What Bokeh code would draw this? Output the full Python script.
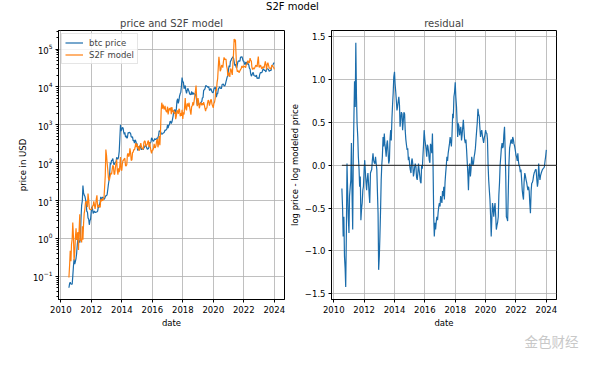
import numpy as np
import pandas as pd
from bokeh.plotting import figure
from bokeh.layouts import column, row
from bokeh.models import FixedTicker, Legend, LegendItem, Label, Range1d
from bokeh.embed import file_html
from bokeh.resources import INLINE

# ---------------- data (semi-monthly: 1st and 15th) ----------------
FIRST_DATE = "2010-07-15"
LAST_DATE = "2024-01-01"

btc_price = [
    # 2010 Jul15 .. Dec15
    0.05, 0.065, 0.07, 0.063, 0.062, 0.062, 0.1, 0.19, 0.28, 0.21, 0.24,
    # 2011
    0.3, 0.4, 0.7, 1.0, 0.9, 0.85, 0.78, 1.1, 3.5, 7.5, 10, 25,
    16, 14, 13, 11, 8.5, 5.2, 5.0, 3.5, 3.2, 2.3, 3.0, 3.2,
    # 2012
    5.3, 6.8, 5.9, 4.6, 4.9, 5.3, 4.9, 4.9, 5.0, 5.0, 5.3, 6.5,
    6.7, 7.6, 9.3, 12.5, 10.3, 11.8, 12.4, 11.8, 10.8, 11.2, 12.6, 13.5,
    # 2013
    13.5, 14.5, 20, 27, 34, 47, 100, 90, 116, 115, 129, 100,
    88, 97, 105, 100, 140, 127, 125, 140, 200, 420, 1000, 690,
    # 2014
    770, 850, 830, 650, 560, 630, 470, 520, 450, 450, 630, 600,
    640, 620, 590, 480, 475, 480, 380, 390, 330, 400, 380, 330,
    # 2015
    315, 210, 225, 235, 260, 285, 245, 220, 235, 237, 222, 250,
    258, 287, 280, 260, 230, 230, 238, 260, 320, 330, 360, 455,
    # 2016
    430, 380, 372, 400, 435, 415, 415, 430, 450, 455, 535, 700,
    680, 665, 600, 570, 575, 610, 615, 640, 730, 710, 750, 780,
    # 2017
    1000, 820, 980, 1010, 1220, 1250, 1080, 1180, 1420, 1730, 2400, 2450,
    2500, 1950, 2720, 4300, 4900, 3700, 4400, 5700, 6700, 7300, 10900, 17700,
    # 2018
    13400, 13600, 9000, 10100, 10900, 8200, 6800, 8000, 9200, 8500, 7500, 6500,
    6350, 6300, 7600, 6300, 7200, 6500, 6600, 6600, 6350, 5600, 4200, 3250,
    # 2019
    3800, 3550, 3450, 3600, 3800, 3950, 4100, 5150, 5300, 8000, 8550, 8800,
    10600, 10900, 10400, 10300, 9600, 10300, 8300, 8150, 9150, 8500, 7400, 7100,
    # 2020
    7200, 8800, 9400, 9900, 8600, 5400, 6600, 6650, 8800, 9300, 10200, 9450,
    9100, 9200, 11800, 11800, 11900, 10800, 10600, 11500, 13800, 15900, 18800, 19400,
    # 2021
    29400, 36800, 33500, 47900, 49600, 56000, 58800, 63200, 57800, 46700, 36700, 40100,
    33500, 31800, 39800, 47000, 48800, 48100, 48200, 61500, 61300, 63600, 57200, 48900,
    # 2022
    47700, 43100, 38500, 44500, 44400, 39300, 46300, 40500, 38500, 31300, 29800, 22500,
    19300, 20800, 23300, 24300, 20100, 19700, 19300, 19100, 20500, 16900, 17100, 17400,
    # 2023
    16600, 20900, 23700, 24300, 23600, 24700, 28500, 30400, 28100, 27200, 26800, 25100,
    30600, 30300, 29700, 29200, 25900, 26600, 27900, 27100, 34700, 35600, 38700, 42000,
    # 2024 Jan1
    44200,
]

# log10(price) - log10(modeled price), same dates
residual = [
    -0.27, -0.5, -0.83, -0.6, -1.06, -1.2, -1.42, -0.75, 0.02, -0.3, -0.6, -0.79,
    -0.36, -0.25, -0.17, 0.26, -0.29, -0.75, 0.1, 0.57, 0.98, 0.68, 1.43, 0.8,
    0.49, 0.33, 0.1, -0.05, -0.25, -0.13, -0.64, -0.5, -0.44, -0.29, -0.25, -0.05,
    0.06, -0.09, -0.2, -0.29, -0.17, -0.09, -0.2, -0.35, -0.44, -0.09, -0.07, -0.05,
    0.05, 0.14, 0.06, 0.03, 0.02, 0.1, 0.03, -0.05, -0.3, -0.56, -1.22, -1.06,
    -0.83, -0.5, -0.17, 0.0, 0.1, 0.33, 0.22, 0.37, 0.25, 0.18, 0.1, 0.25,
    0.29, 0.15, 0.02, 0.06, 0.3, 0.41, 0.29, 0.55, 0.7, 0.85, 1.03, 1.09,
    0.95, 0.85, 0.75, 0.64, 0.68, 0.75, 0.8, 0.7, 0.45, 0.55, 0.62, 0.6,
    0.41, 0.52, 0.62, 0.6, 0.41, 0.3, 0.24, 0.18, 0.2, 0.06, 0.1, 0.0,
    -0.05, -0.09, 0.05, 0.08, 0.02, -0.13, -0.09, -0.02, 0.02, -0.02, -0.14, -0.17,
    -0.1, 0.02, -0.05, -0.12, -0.19, -0.21, 0.0, -0.04, 0.1, 0.25, 0.41, 0.3,
    0.25, 0.18, 0.1, 0.24, 0.22, 0.15, 0.06, 0.03, 0.25, 0.22, 0.14, 0.37,
    0.02, -0.6, -0.83, -0.67, -0.75, -0.66, -0.6, -0.64, -0.55, -0.48, -0.44, -0.48,
    -0.36, -0.4, -0.44, -0.3, -0.36, -0.25, -0.4, -0.2, -0.1, 0.0, 0.1, 0.05,
    0.14, 0.2, 0.25, 0.33, 0.28, 0.22, 0.35, 0.6, 0.55, 0.8, 0.85, 0.97,
    0.8, 0.68, 0.5, 0.33, 0.49, 0.45, 0.35, 0.41, 0.45, 0.29, 0.35, 0.45,
    0.53, 0.4, 0.3, 0.26, 0.3, 0.18, 0.05, -0.1, -0.29, -0.05, 0.02, -0.13,
    -0.05, 0.1, 0.05, 0.0, 0.02, 0.1, 0.14, 0.2, 0.3, 0.41, 0.5, 0.66,
    0.6, 0.57, 0.45, 0.33, 0.38, 0.41, 0.35, 0.3, 0.26, 0.32, 0.35, 0.41,
    0.38, 0.37, 0.3, 0.0, -0.17, -0.3, -0.4, -0.6, -0.83, -0.6, -0.44, -0.5,
    -0.6, -0.5, -0.44, -0.6, -0.75, -0.7, -0.67, -0.6, -0.35, -0.2, 0.0, 0.1,
    0.2, 0.26, 0.2, 0.22, 0.35, 0.45, 0.2, -0.13, -0.6, -0.62, -0.65, -0.3,
    0.0, 0.2, 0.24, 0.29, 0.3, 0.25, 0.33, 0.3, 0.25, 0.22, 0.18, 0.12,
    0.1, 0.05, 0.14, 0.05, 0.0, -0.02, -0.08, -0.05, -0.15, -0.29, -0.35, -0.4,
    -0.2, -0.09, -0.12, -0.17, -0.2, -0.25, -0.29, -0.25, -0.3, -0.45, -0.56, -0.3,
    -0.21, -0.2, -0.17, -0.12, -0.09, -0.07, -0.05, -0.05, -0.15, -0.25, -0.2, 0.02,
    -0.1, -0.17, -0.12, -0.09, -0.07, -0.05, -0.04, -0.03, -0.02, 0.05, 0.1, 0.18,
]

x_ticks = [2010, 2012, 2014, 2016, 2018, 2020, 2022, 2024]
price_ticks = [0.1, 1, 10, 100, 1000, 10000, 100000]
resid_ticks = [-1.5, -1.0, -0.5, 0.0, 0.5, 1.0, 1.5]
resid_labels = ["\u22121.5", "\u22121.0", "\u22120.5", "0.0", "0.5", "1.0", "1.5"]

# ---------------- derived series ----------------
dates = pd.date_range(FIRST_DATE, LAST_DATE, freq="SMS")
assert len(dates) == len(btc_price) == len(residual)
t = np.asarray(dates.year + (dates.dayofyear - 1) / 365.25, dtype=float)
price = np.array(btc_price, dtype=float)
res = np.array(residual, dtype=float)
model = price / 10 ** res

# ---------------- styling ----------------
FONT = "DejaVu Sans"
BLUE = "#1a6cab"
ORANGE = "#ff7f0e"
X_RANGE = (2009.85, 2024.67)
TICK_FS = "8.5px"
LABEL_FS = "8.5px"
TITLE_FS = "10px"
LW = 1.2


def style(p):
    p.outline_line_color = "black"
    p.outline_line_width = 1
    p.outline_line_alpha = 1
    p.background_fill_color = "white"
    p.border_fill_color = "white"
    for ax in p.axis:
        ax.axis_line_color = "black"
        ax.major_tick_line_color = "black"
        ax.minor_tick_line_color = "black"
        ax.major_tick_out = 3
        ax.major_tick_in = 0
        ax.minor_tick_out = 2
        ax.minor_tick_in = 0
        ax.major_label_text_font = FONT
        ax.major_label_text_font_size = TICK_FS
        ax.major_label_text_color = "black"
        ax.major_label_standoff = 3
        ax.axis_label_text_font = FONT
        ax.axis_label_text_font_size = LABEL_FS
        ax.axis_label_text_font_style = "normal"
        ax.axis_label_text_color = "black"
        ax.axis_label_standoff = 2
    p.xaxis.ticker = FixedTicker(ticks=x_ticks, minor_ticks=[])
    p.xaxis.minor_tick_line_color = None
    p.grid.grid_line_color = "#b0b0b0"
    p.grid.grid_line_width = 0.8
    p.title.text_font = FONT
    p.title.text_font_size = TITLE_FS
    p.title.text_font_style = "normal"
    p.title.align = "center"
    p.title.standoff = 3


def strip(height):
    s = figure(width=584, height=height, x_range=Range1d(0, 584), y_range=Range1d(0, height),
               output_backend="svg", toolbar_location=None,
               min_border_left=0, min_border_right=0, min_border_top=0, min_border_bottom=0)
    s.axis.visible = False
    s.grid.visible = False
    s.outline_line_color = None
    return s


# ---------------- suptitle strip ----------------
top = strip(12)
top.add_layout(Label(x=292, y=6, text="S2F model", text_align="center",
                     text_baseline="middle", text_font=FONT, text_font_size=TITLE_FS,
                     text_color="black"))

# ---------------- left: price and model ----------------
left = figure(width=286, height=318, title="price and S2F model",
              x_range=Range1d(*X_RANGE), y_range=Range1d(0.0245, 3.1e5),
              y_axis_type="log", output_backend="svg", toolbar_location=None,
              min_border_left=58, min_border_right=2, min_border_top=18, min_border_bottom=30)
style(left)
minor_log = [m * 10.0 ** e for e in range(-2, 6) for m in range(2, 10)]
left.yaxis.ticker = FixedTicker(ticks=price_ticks, minor_ticks=minor_log)
left.xaxis.axis_label = "date"
left.yaxis.axis_label = "price in USD"

l_price = left.line(t, price, color=BLUE, line_width=LW)
l_model = left.line(t, model, color=ORANGE, line_width=LW)

legend = Legend(items=[LegendItem(label="btc price", renderers=[l_price]),
                       LegendItem(label="S2F model", renderers=[l_model])],
                location="top_left", margin=3, padding=3, spacing=1,
                glyph_width=18, glyph_height=11, label_height=11, label_standoff=6,
                label_text_font=FONT, label_text_font_size=TICK_FS,
                border_line_color="#cccccc", border_line_width=1,
                background_fill_color="white", background_fill_alpha=0.8)
left.add_layout(legend)

# ---------------- right: residual ----------------
right = figure(width=298, height=318, title="residual",
               x_range=Range1d(*X_RANGE), y_range=Range1d(-1.566, 1.573),
               output_backend="svg", toolbar_location=None,
               min_border_left=43, min_border_right=28, min_border_top=18, min_border_bottom=30)
style(right)
right.yaxis.ticker = FixedTicker(ticks=resid_ticks, minor_ticks=[])
right.yaxis.major_label_overrides = {v: s for v, s in zip(resid_ticks, resid_labels)}
right.yaxis.minor_tick_line_color = None
right.xaxis.axis_label = "date"
right.yaxis.axis_label = "log price - log modeled price"

right.line(t, res, color=BLUE, line_width=LW)
right.segment(x0=[t[0]], x1=[X_RANGE[1]], y0=[0], y1=[0], color="#222222", line_width=1)

# ---------------- watermark strip ----------------
bottom = strip(20)
bottom.add_layout(Label(x=578, y=10, text="金色财经", text_align="right", text_baseline="middle",
                        text_font="Noto Sans CJK SC", text_font_size="13.5px",
                        text_color="#c8c8c8"))

layout = column(top, row(left, right, spacing=0), bottom, spacing=0)
open("out.html", "w").write(file_html(layout, INLINE))
